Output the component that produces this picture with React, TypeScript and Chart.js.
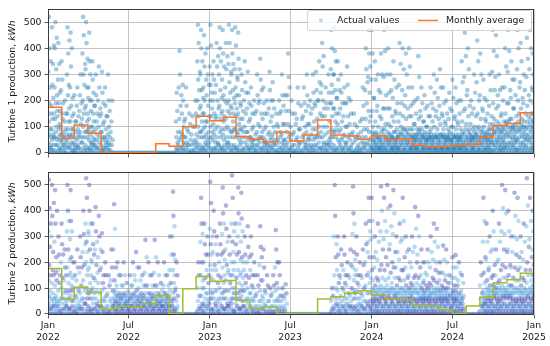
import React, { useEffect, useRef } from "react";
import { Chart, registerables } from "chart.js";

Chart.register(...registerables);

// ---------- axis / tick data ----------
const X_MAX = 1096; // days from 1 Jan 2022 to 1 Jan 2025
const xTickDays = [0, 181, 365, 546, 730, 912, 1096];
const xTickLabels = [
  ["Jan", "2022"], ["Jul", "2022"], ["Jan", "2023"], ["Jul", "2023"],
  ["Jan", "2024"], ["Jul", "2024"], ["Jan", "2025"],
];
const yTicks = [0, 100, 200, 300, 400, 500];

// ---------- monthly averages (Jan 2022 .. Dec 2024) ----------
const t1Monthly = [
  175, 55, 107, 75, 1, 1, 1, 1, 35, 25, 100, 140,
  123, 136, 62, 52, 42, 80, 46, 68, 126, 68, 65, 52,
  66, 50, 54, 28, 23, 25, 30, 33, 60, 105, 112, 154,
];
const t2Monthly = [
  176, 58, 104, 83, 19, 30, 28, 40, 71, 1, 98, 145,
  127, 130, 52, 21, 27, 1, 1, 1, 58, 67, 80, 90,
  73, 60, 55, 32, 30, 15, 2, 31, 65, 121, 133, 158,
];

// ---------- actual values, sampled week by week (kWh) ----------
const t1Weeks2022 = [
  [40,310,0,120,520,70,190,20,400,90,250,10,150,60,350,30],
  [20,180,0,90,480,50,260,130,10,340,70,210,30,150,410,60],
  [60,250,10,400,130,0,500,80,190,30,320,100,440,50,220,160],
  [30,140,0,280,60,420,10,190,90,340,20,110,230,50,160,70],
  [10,100,0,240,40,350,70,150,20,280,50,130,190,30,80,60],
  [0,60,10,120,30,200,0,90,20,150,40,70],
  [50,300,0,150,480,90,220,20,380,120,60,260,30,170,430,70],
  [20,250,0,120,460,60,330,40,180,90,10,400,140,70,210,30],
  [0,90,10,150,40,220,0,60,20,120,30,80],
  [10,120,0,180,50,250,20,90,30,140,60,70],
  [20,160,0,220,80,300,10,110,40,190,60,130],
  [40,380,0,200,520,100,300,20,450,150,60,260,10,170,80,340],
  [30,320,0,180,500,80,420,10,250,120,60,360,20,150,90,210],
  [0,250,50,130,460,20,350,70,200,10,300,100,40,160,80,30],
  [10,200,0,100,350,40,280,60,150,20,230,80,120,30,180,50],
  [0,180,30,90,300,10,220,50,120,20,150,70],
  [20,200,0,100,330,40,250,60,140,10,170,80],
  [0,150,30,80,310,10,230,50,110,20,190,60],
  [10,120,0,60,250,20,180,40,90,30,140,50],
  [0,140,20,70,300,10,200,40,100,30,160,60],
  [10,80,0,120,30,200,50,0],
  [0,0],[0,0],[0,0],[0,0],[0,0],[0,0],[0,0],[0,0],[0,0],[0,0],
  [0,0],[0,0],[0,0],[0,0],[0,0],[0,0],[0,0],[0,0],[0,0],[0,0],
  [0,120,20,60,230,10,160,40,80,30],
  [10,250,0,130,390,50,300,20,180,80,60,220],
  [0,150,20,70,260,10,200,40,100,30,120,60],
  [10,130,0,60,250,20,180,40,90,30],
  [0,80,10,30,150,0,110,50],
  [0,70,10,30,140,0,100,40],
  [10,100,0,50,200,20,150,30,70,0],
  [40,350,0,200,490,100,280,20,420,140,60,240,10,170,80,310],
  [30,300,0,180,470,80,400,10,240,120,60,350,20,150,90,210],
  [20,250,0,150,450,60,330,10,200,100,40,380,30,120,70,280],
  [10,220,0,120,400,50,300,30,180,80,20,260,60,140],
];
const t1Weeks2023 = [
  [40,330,0,200,490,100,260,20,410,140,60,230,10,170,80,300],
  [0,200,50,110,350,10,280,70,150,20,230,90,40,130],
  [20,260,0,140,420,60,330,10,200,100,40,370,30,170],
  [30,300,0,180,480,80,400,10,240,130,60,350,20,150,90,210],
  [20,280,0,160,470,70,380,10,220,120,50,330,30,140,90,200],
  [10,250,0,130,420,60,320,20,190,100,40,370,30,160],
  [40,340,0,200,490,90,270,20,420,150,60,230,10,180,80,310],
  [30,300,0,170,470,80,380,10,240,120,60,340,20,150,90,210],
  [30,320,0,190,480,90,250,20,410,140,60,220,10,170,80,290],
  [20,280,0,150,460,70,360,10,220,110,50,320,30,130,90,190],
  [0,180,40,90,300,10,240,60,130,20,160,80],
  [10,200,0,100,350,40,270,60,150,20,230,80],
  [0,170,30,80,310,10,230,50,120,20,190,60],
  [10,130,0,60,250,20,180,40,90,30,150,50],
  [0,100,20,50,200,10,150,30,70,0],
  [10,160,0,80,300,30,220,50,110,20,190,60],
  [0,200,40,100,360,10,280,60,150,20,240,80],
  [10,130,0,60,250,20,190,40,90,30,150,50],
  [0,100,10,40,200,20,150,30,70,0],
  [10,170,0,80,310,30,240,50,120,20,200,60],
  [0,140,20,70,270,10,200,40,100,30,170,50],
  [0,80,10,30,150,0,110,50],
  [10,100,0,40,200,20,150,60,80,0],
  [0,160,20,70,300,10,220,40,110,30,180,50],
  [10,110,0,50,220,20,160,30,80,0],
  [0,220,40,110,380,10,290,60,160,20,250,70],
  [10,100,0,50,200,20,150,30,70,0],
  [0,80,10,30,150,0,110,50],
  [10,130,0,60,250,20,190,40,90,30],
  [0,90,10,40,180,0,130,60],
  [10,140,0,70,250,20,190,40,100,30],
  [0,160,20,80,300,10,220,50,110,30,180,60],
  [10,110,0,50,200,20,150,30,70,0],
  [0,170,20,90,300,10,230,50,120,30,190,60],
  [10,180,0,90,310,30,240,60,130,20,200,70],
  [0,200,40,100,350,10,270,60,150,20,230,80],
  [20,260,0,140,420,60,330,10,200,100,40,370,30,170],
  [0,140,20,70,250,10,190,40,100,30],
  [10,170,0,80,300,30,230,50,120,20,190,60],
  [40,320,0,190,470,90,260,20,400,140,60,230,10,170,80,300],
  [30,300,0,170,480,80,390,10,240,120,60,350,20,150,90,210],
  [10,210,0,110,350,50,280,20,150,80,40,240],
  [0,170,30,90,300,10,230,50,120,20,190,60],
  [10,140,0,70,250,20,190,40,100,30],
  [0,190,40,100,330,10,260,60,140,20,210,70],
  [10,110,0,50,200,20,150,30,70,0],
  [0,80,10,40,150,0,110,60],
  [0,50,10,20,100,0,70,30],
  [0,60,10,20,120,0,80,40],
  [10,130,0,60,250,20,180,40,90,30],
  [20,240,0,130,400,60,320,10,190,90,40,270],
  [30,290,0,160,470,80,380,10,230,120,50,330,20,140],
];
const t1Weeks2024 = [
  [30,280,0,60,470,20,160,80,10,380,50,100,40,70,210,10],
  [20,210,0,50,350,30,120,70,10,280,40,80,60,20,160,0],
  [30,180,0,60,300,20,100,70,10,240,50,60,40,20,140,10],
  [20,230,0,50,380,30,130,80,10,300,40,90,60,20,170,0],
  [30,290,0,70,470,20,170,90,10,390,50,110,40,60,220,10],
  [20,300,0,60,480,30,170,80,10,400,50,110,40,70,230,0],
  [30,170,0,50,300,20,100,70,10,240,40,60,60,20,140,10],
  [20,210,0,60,350,30,120,80,10,280,50,80,40,20,160,0],
  [30,150,0,50,250,20,90,60,10,190,40,60,70,20,120,10],
  [20,260,0,60,420,30,150,80,10,340,50,100,40,70,190,0],
  [30,240,0,70,400,20,140,90,10,320,50,90,40,60,180,10],
  [20,220,0,60,380,30,130,80,10,300,50,90,40,70,170,0],
  [30,250,0,50,400,20,140,70,10,330,40,90,60,20,180,10],
  [20,140,0,60,250,30,90,70,10,190,50,60,40,20,110,0],
  [30,110,0,50,200,20,70,60,10,150,40,50,70,20,90,10],
  [20,210,0,60,370,30,130,80,10,290,50,90,40,70,160,0],
  [30,140,0,50,250,20,90,70,10,190,40,60,60,20,120,10],
  [20,120,0,60,220,30,80,70,10,170,50,50,40,20,100,0],
  [30,100,0,50,180,20,70,60,10,140,40,50,60,20,80,10],
  [20,140,0,60,250,30,90,70,10,190,50,60,40,20,120,0],
  [30,170,0,50,300,20,100,70,10,230,40,60,60,20,140,10],
  [20,160,0,60,280,30,90,70,10,210,50,60,40,20,130,0],
  [30,180,0,50,320,20,110,70,10,250,40,70,60,20,150,10],
  [20,140,0,60,250,30,90,70,10,190,50,60,40,20,120,0],
  [30,110,0,50,200,20,70,60,10,150,40,50,60,20,90,10],
  [20,130,0,60,230,30,80,70,10,170,50,50,40,20,100,0],
  [30,160,0,50,280,20,100,70,10,210,40,60,60,20,130,10],
  [20,140,0,60,250,30,90,70,10,190,50,60,40,20,120,0],
  [30,110,0,50,200,20,70,60,10,150,40,50,60,20,90,10],
  [20,200,0,60,350,30,120,70,10,270,50,80,40,20,160,0],
  [30,290,0,70,460,20,170,90,10,370,50,110,40,60,220,10],
  [20,240,0,60,400,30,140,80,10,320,50,90,40,70,180,0],
  [30,110,0,50,200,20,70,60,10,150,40,50,60,20,90,10],
  [20,170,0,60,300,30,100,80,10,230,50,60,40,70,140,0],
  [30,270,0,70,430,20,150,90,10,350,50,100,40,60,200,10],
  [20,220,0,60,380,30,130,80,10,300,50,90,40,70,170,0],
  [30,160,0,60,280,20,100,80,10,210,50,60,40,70,130,10],
  [20,120,0,60,200,30,80,70,10,150,50,50,40,20,90,0],
  [30,180,0,70,300,20,110,90,10,240,50,70,40,60,140,10],
  [40,310,0,90,470,30,190,110,10,390,70,130,50,80,240,20],
  [30,290,0,80,450,40,170,100,10,370,60,120,50,90,220,20],
  [40,180,0,70,300,30,110,90,10,240,60,80,50,20,140,10],
  [30,150,0,80,250,40,100,90,10,200,60,70,50,20,120,20],
  [40,250,0,90,400,30,150,110,10,330,70,120,60,80,190,20],
  [30,310,0,100,470,40,190,120,10,390,70,130,60,90,240,20],
  [40,210,0,80,350,30,130,100,10,280,60,100,50,90,170,20],
  [30,170,0,70,280,40,110,90,10,220,60,80,50,20,140,10],
  [40,320,0,100,470,50,200,120,10,400,80,150,60,90,250,20],
  [30,270,0,90,420,40,170,110,10,350,70,130,60,100,210,20],
  [40,190,0,80,300,30,120,100,10,240,60,90,50,70,150,20],
  [30,290,0,100,440,50,180,120,10,360,70,140,60,90,220,20],
  [40,320,0,110,470,50,200,130,10,400,80,150,60,100,250,20],
  [30,240,0,90,380,40,150,120,10,300,70,120,60,100,190,20],
];

const t2Weeks2022 = [
  [40,320,0,130,520,70,190,20,410,90,260,10,150,60,350,30],
  [20,300,0,120,500,50,380,30,170,80,240,10,150,60,430,40],
  [30,280,0,110,480,60,350,20,160,70,220,10,130,50,400,40],
  [0,170,30,90,300,10,230,50,120,20,150,60],
  [10,200,0,100,350,40,270,60,140,20,230,80],
  [0,130,20,60,250,10,180,40,90,30,150,50],
  [30,320,0,180,500,80,400,10,250,120,60,360,20,150,90,210],
  [20,290,0,160,480,70,360,10,220,110,50,320,30,140,90,200],
  [0,100,10,50,200,20,150,30,70,0],
  [10,130,0,60,250,20,180,40,90,30],
  [0,160,20,80,300,10,220,50,110,30,180,60],
  [20,240,0,130,400,60,310,10,190,90,40,270],
  [40,350,0,200,526,100,280,20,450,150,60,240,10,170,80,320],
  [30,310,0,180,500,80,400,10,250,120,60,350,20,150,90,210],
  [10,200,0,100,350,40,270,60,140,20,230,80],
  [20,250,0,130,414,60,320,10,190,90,40,280,30,160],
  [10,220,0,120,380,50,300,20,170,80,30,250],
  [0,180,30,90,313,10,240,50,120,20,150,60],
  [10,100,0,50,200,20,150,30,70,0],
  [0,80,10,30,150,0,110,50],
  [10,130,0,60,250,20,180,40,90,30],
  [30,250,0,60,425,20,130,80,10,330,50,90,40,70,180,10],
  [20,110,0,50,200,30,70,60,10,150,40,80],
  [30,80,0,50,150,20,60,40,10,110,70,30],
  [20,110,0,60,200,30,80,50,10,150,40,70],
  [30,70,0,40,120,20,50,60,10,90,30,10],
  [20,80,0,50,150,30,60,40,10,110,70,30],
  [30,110,0,60,200,20,80,50,10,150,40,70],
  [20,130,0,70,240,30,90,60,10,180,50,40],
  [30,100,0,60,180,20,70,50,10,130,40,80],
  [20,80,0,50,150,30,60,40,10,110,70,30],
  [30,160,0,80,287,20,110,60,10,220,50,40],
  [20,110,0,60,200,30,80,50,10,150,40,70],
  [30,80,0,50,150,20,60,40,10,110,70,30],
  [20,160,0,80,287,30,110,60,10,220,50,40],
  [30,110,0,60,200,20,80,50,10,150,40,70],
  [20,70,0,40,120,30,50,60,10,90,30,10],
  [30,110,0,60,200,20,80,50,10,150,40,70],
  [20,80,0,50,150,30,60,40,10,110,70,30],
  [30,170,0,90,300,20,120,60,10,230,50,40],
  [30,300,0,170,474,80,380,10,230,120,60,340,20,150,90,210],
  [10,100,0,50,200,20,150,30,70,0],
  [0,0],[0,0],[0,0],[0,0],[0,0],[0,0],
  [10,100,0,50,200,20,150,30,70,0],
  [20,280,0,150,450,70,350,10,200,100,40,310,30,130],
  [10,200,0,100,350,40,270,60,140,20,230,80],
  [0,170,30,80,300,10,230,50,120,20,150,60],
];
const t2Weeks2023 = [
  [40,330,0,190,512,90,270,20,430,140,60,230,10,170,80,300],
  [20,240,0,130,400,60,320,10,190,90,40,270],
  [0,170,30,90,300,10,230,50,120,20,150,60],
  [10,200,0,100,350,40,270,60,140,20,230,80],
  [30,310,0,180,490,80,390,10,240,120,60,350,20,150,90,210],
  [20,250,0,130,420,60,330,10,190,90,40,280,30,160],
  [0,170,30,90,300,10,230,50,120,20,150,60],
  [40,350,0,200,537,100,280,20,450,150,60,240,10,170,80,320],
  [10,200,0,100,350,40,270,60,140,20,230,80],
  [30,300,0,170,490,80,390,10,240,120,60,350,20,150,90,210],
  [20,280,0,160,470,70,370,10,220,110,50,320,30,140,90,200],
  [0,170,30,90,300,10,230,50,120,20,150,60],
  [10,200,0,100,340,40,260,60,140,20,220,80],
  [0,170,30,80,300,10,230,50,110,20,150,60],
  [10,100,0,50,200,20,150,30,70,0],
  [0,80,10,30,150,0,110,50],
  [10,190,0,90,340,30,260,50,130,20,220,70],
  [0,130,20,60,250,10,180,40,90,30],
  [0,80,10,30,150,0,110,50],
  [0,50,10,20,100,0,70,30],
  [0,80,10,30,150,0,110,50],
  [10,180,0,90,325,30,250,50,120,20,200,60],
  [0,100,10,50,200,20,150,30,70,0],
  [0,50,10,20,100,0,70,30],
  [0,60,10,20,115,0,80,40],
  [0,0],[0,0],[0,0],[0,0],[0,0],[0,0],[0,0],[0,0],[0,0],[0,0],[0,0],[0,0],[0,0],[0,0],
  [0,50,10,20,100,0,70,30],
  [20,300,0,150,500,60,380,10,220,100,40,270],
  [0,170,30,90,300,10,230,60,120,20,150,40],
  [10,140,0,70,250,30,190,50,100,20],
  [0,170,30,90,300,10,230,60,120,20,150,40],
  [10,110,0,60,200,30,150,40,80,20],
  [0,140,30,70,250,10,190,50,100,20],
  [30,310,0,180,494,90,390,10,240,130,60,350,20,150,80,210],
  [0,170,30,90,300,10,230,60,120,20,150,40],
  [10,110,0,60,200,30,150,40,80,20],
  [0,140,30,70,250,10,190,50,100,20],
  [20,200,0,110,350,50,270,10,150,80,40,240],
  [30,280,0,160,450,80,360,10,220,120,50,320,20,140],
];
const t2Weeks2024 = [
  [30,290,0,80,450,40,170,100,10,360,60,130,50,90,220,20],
  [40,180,0,70,300,30,110,90,10,240,60,80,50,20,140,10],
  [30,210,0,80,350,40,130,100,10,280,60,90,50,70,170,20],
  [40,320,0,110,494,30,190,90,10,400,70,140,60,80,250,20],
  [30,290,0,100,450,40,170,80,10,360,60,130,50,90,220,20],
  [40,320,0,110,500,30,190,90,10,410,70,140,60,80,250,20],
  [30,270,0,90,420,40,160,100,10,340,60,120,50,80,200,20],
  [40,310,0,100,480,30,180,90,10,390,70,140,60,80,240,20],
  [30,180,0,70,300,40,110,90,10,240,60,80,50,20,140,10],
  [40,210,0,80,350,30,130,100,10,280,60,90,50,70,170,20],
  [30,290,0,100,450,40,170,80,10,360,60,130,50,90,220,20],
  [40,180,0,70,300,30,110,90,10,240,60,80,50,20,140,10],
  [30,150,0,60,250,40,100,90,10,200,60,70,50,80,120,20],
  [40,180,0,70,300,30,110,90,10,240,60,80,50,20,140,10],
  [30,260,0,90,414,40,150,100,10,330,60,120,50,80,200,20],
  [40,230,0,80,380,30,140,90,10,300,60,110,50,70,180,20],
  [30,150,0,60,250,40,100,90,10,200,60,70,50,80,120,20],
  [40,130,0,60,200,30,90,80,10,160,60,70,50,20,110,10],
  [30,150,0,60,250,40,100,90,10,200,60,70,50,80,120,20],
  [40,180,0,70,300,30,110,90,10,240,60,80,50,20,140,10],
  [30,210,0,80,350,40,130,100,10,280,60,90,50,70,170,20],
  [40,200,0,80,330,30,120,90,10,260,60,100,50,70,160,20],
  [30,130,0,60,200,40,90,80,10,160,60,70,50,20,110,10],
  [40,160,0,60,265,30,100,90,10,210,60,80,50,70,130,20],
  [30,150,0,60,250,40,100,90,10,200,60,70,50,80,120,20],
  [40,100,0,50,150,30,70,60,10,120,20,80],
  [30,140,0,60,220,40,90,80,10,180,60,70,50,20,110,10],
  [40,140,0,60,228,30,90,80,10,180,60,70,50,20,110,10],
  [30,130,0,50,200,40,80,60,10,160,20,70],
  [40,90,0,50,150,30,60,40,10,120,20,70],
  [0,0],[0,0],[0,0],[0,0],[0,0],
  [10,110,0,60,200,30,150,40,80,20],
  [30,280,0,90,450,50,160,70,10,360,40,120,60,20,220,10],
  [40,210,0,80,350,30,130,100,10,280,60,90,50,70,170,20],
  [30,180,0,70,300,40,110,90,10,240,60,80,50,20,140,10],
  [40,250,0,90,400,30,150,110,10,320,70,110,60,80,190,20],
  [30,150,0,80,250,40,100,90,10,200,60,70,50,20,120,20],
  [40,210,0,80,350,30,130,100,10,280,60,90,50,70,170,20],
  [30,320,0,110,500,40,190,90,10,410,70,140,60,80,250,20],
  [40,310,0,100,480,30,180,90,10,390,70,140,60,80,240,20],
  [30,250,0,90,400,40,150,110,10,320,70,110,60,80,190,20],
  [40,180,0,70,300,30,110,90,10,240,60,80,50,20,140,10],
  [30,300,0,100,470,40,180,80,10,380,60,130,50,90,230,20],
  [40,290,0,100,450,30,170,80,10,360,60,130,50,90,220,20],
  [30,180,0,70,300,40,110,90,10,240,60,80,50,20,140,10],
  [40,210,0,80,350,30,130,100,10,280,60,90,50,70,170,20],
  [30,340,0,120,526,40,200,90,10,420,70,150,60,80,260,20],
  [40,290,0,100,450,30,170,80,10,360,60,130,50,90,220,20],
  [30,250,0,90,400,40,150,110,10,320,70,110,60,80,190,20],
];

// ---------- helpers ----------
const FONT_FAMILY = '"DejaVu Sans", sans-serif';
const FONT_SIZE = 9.3;
const TEXT_COLOR = "#1a1a1a";
const T1_LINE = "#fb7423";
const T2_LINE = "#a2bd2c";
const T1_POINT = "rgba(31,119,180,0.4)";
const T2_POINT_A = "rgba(64,72,172,0.42)";
const T2_POINT_B = "rgba(58,150,218,0.36)";

function weeksToPoints(weeks: number[][], firstWeek: number) {
  const pts: { x: number; y: number }[] = [];
  weeks.forEach((vals, i) => {
    const d0 = 7 * (firstWeek + i);
    const span = Math.min(7, X_MAX - d0);
    vals.forEach((v, j) => pts.push({ x: d0 + ((j + 0.5) * span) / vals.length, y: v }));
  });
  return pts;
}

function monthStartDay(i: number) {
  return (Date.UTC(2022, i, 1) - Date.UTC(2022, 0, 1)) / 86400000;
}

function monthlyToSteps(values: number[]) {
  const pts = values.map((v, i) => ({ x: monthStartDay(i), y: v }));
  pts.push({ x: monthStartDay(values.length), y: values[values.length - 1] });
  return pts;
}

const decorPlugin = {
  id: "decor",
  afterDraw(chart: any, _args: any, opts: any) {
    const { ctx, chartArea: a } = chart;
    ctx.save();
    ctx.strokeStyle = "#3a3a3a";
    ctx.lineWidth = 1;
    ctx.strokeRect(Math.round(a.left) + 0.5, Math.round(a.top) + 0.5, Math.round(a.right - a.left) - 1, Math.round(a.bottom - a.top) - 1);

    const normal = `${FONT_SIZE}px ${FONT_FAMILY}`;
    const italic = `italic ${FONT_SIZE}px ${FONT_FAMILY}`;
    ctx.fillStyle = TEXT_COLOR;
    ctx.textBaseline = "middle";
    ctx.textAlign = "left";
    ctx.font = normal;
    const w1 = ctx.measureText(opts.title[0]).width;
    ctx.font = italic;
    const w2 = ctx.measureText(opts.title[1]).width;
    ctx.translate(opts.titleX, (a.top + a.bottom) / 2);
    ctx.rotate(-Math.PI / 2);
    const start = -(w1 + w2) / 2;
    ctx.font = normal;
    ctx.fillText(opts.title[0], start, 0);
    ctx.font = italic;
    ctx.fillText(opts.title[1], start + w1, 0);
    ctx.restore();

    if (opts.legend) {
      ctx.save();
      const bx = 307, by = 10, bw = 224, bh = 20;
      ctx.fillStyle = "rgba(255,255,255,0.8)";
      ctx.strokeStyle = "#d4d4d4";
      ctx.lineWidth = 1;
      ctx.beginPath();
      (ctx as any).roundRect(bx + 0.5, by + 0.5, bw, bh, 2.5);
      ctx.fill();
      ctx.stroke();
      const cy = by + bh / 2 + 0.5;
      ctx.fillStyle = "rgba(31,119,180,0.3)";
      ctx.beginPath();
      ctx.arc(321, cy, 2, 0, Math.PI * 2);
      ctx.fill();
      ctx.font = `${FONT_SIZE}px ${FONT_FAMILY}`;
      ctx.fillStyle = TEXT_COLOR;
      ctx.textBaseline = "middle";
      ctx.textAlign = "left";
      ctx.fillText("Actual values", 337, cy);
      ctx.strokeStyle = T1_LINE;
      ctx.lineWidth = 1.5;
      ctx.beginPath();
      ctx.moveTo(418, cy);
      ctx.lineTo(438, cy);
      ctx.stroke();
      ctx.fillText("Monthly average", 446, cy);
      ctx.restore();
    }
  },
};

function buildConfig(p: {
  points: { x: number; y: number }[];
  steps: { x: number; y: number }[];
  pointColor: any;
  lineColor: string;
  title: [string, string];
  showXLabels: boolean;
  legend: boolean;
  padTop: number;
  xAxisH: number;
}): any {
  const font = { family: FONT_FAMILY, size: FONT_SIZE, lineHeight: 1.3 };
  return {
    type: "scatter",
    data: {
      datasets: [
        {
          type: "line",
          label: "Monthly average",
          data: p.steps,
          stepped: "before",
          borderColor: p.lineColor,
          borderWidth: 1.5,
          pointRadius: 0,
          fill: false,
          order: 0,
        },
        {
          type: "scatter",
          label: "Actual values",
          data: p.points,
          pointRadius: 2.3,
          pointBorderWidth: 0,
          borderWidth: 0,
          backgroundColor: p.pointColor,
          order: 1,
        },
      ],
    },
    options: {
      animation: false,
      responsive: false,
      devicePixelRatio: 1,
      events: [],
      layout: { padding: { left: 0, right: 16, top: p.padTop, bottom: 0 } },
      plugins: {
        legend: { display: false },
        tooltip: { enabled: false },
        decor: { title: p.title, titleX: 13, legend: p.legend },
      },
      scales: {
        x: {
          type: "linear",
          min: 0,
          max: X_MAX,
          afterBuildTicks: (s: any) => {
            s.ticks = xTickDays.map((v) => ({ value: v }));
          },
          afterFit: (s: any) => {
            s.height = p.xAxisH;
          },
          border: { display: false },
          grid: { color: "#b4b4b4", lineWidth: 0.8, tickLength: 3.5, tickColor: "#333", drawTicks: true },
          ticks: {
            display: p.showXLabels,
            autoSkip: false,
            maxRotation: 0,
            padding: 1,
            color: TEXT_COLOR,
            font,
            callback: (v: number) => xTickLabels[xTickDays.indexOf(v)] || "",
          },
        },
        y: {
          type: "linear",
          min: -4,
          max: 550,
          afterBuildTicks: (s: any) => {
            s.ticks = yTicks.map((v) => ({ value: v }));
          },
          afterFit: (s: any) => {
            s.width = 48;
          },
          border: { display: false },
          grid: { color: "#b4b4b4", lineWidth: 0.8, tickLength: 3.5, tickColor: "#333", drawTicks: true },
          ticks: { padding: 3, color: TEXT_COLOR, font, callback: (v: number) => String(v) },
        },
      },
    },
    plugins: [decorPlugin],
  };
}

export default function App() {
  const topRef = useRef<HTMLCanvasElement>(null);
  const botRef = useRef<HTMLCanvasElement>(null);

  useEffect(() => {
    const t1Points = [
      ...weeksToPoints(t1Weeks2022, 0),
      ...weeksToPoints(t1Weeks2023, 52),
      ...weeksToPoints(t1Weeks2024, 104),
    ];
    const t2Points = [
      ...weeksToPoints(t2Weeks2022, 0),
      ...weeksToPoints(t2Weeks2023, 52),
      ...weeksToPoints(t2Weeks2024, 104),
    ];
    const c1 = new Chart(
      topRef.current as HTMLCanvasElement,
      buildConfig({
        points: t1Points,
        steps: monthlyToSteps(t1Monthly),
        pointColor: T1_POINT,
        lineColor: T1_LINE,
        title: ["Turbine 1 production, ", "kWh"],
        showXLabels: false,
        legend: true,
        padTop: 7,
        xAxisH: 7,
      })
    );
    const c2 = new Chart(
      botRef.current as HTMLCanvasElement,
      buildConfig({
        points: t2Points,
        steps: monthlyToSteps(t2Monthly),
        pointColor: (ctx: any) => (ctx.dataIndex % 2 ? T2_POINT_B : T2_POINT_A),
        lineColor: T2_LINE,
        title: ["Turbine 2 production, ", "kWh"],
        showXLabels: true,
        legend: false,
        padTop: 4,
        xAxisH: 31,
      })
    );
    return () => {
      c1.destroy();
      c2.destroy();
    };
  }, []);

  return (
    <div style={{ position: "fixed", left: 0, top: 0, width: 550, height: 346, background: "#fff" }}>
      <canvas ref={topRef} width={550} height={163} style={{ display: "block" }} />
      <canvas ref={botRef} width={550} height={183} style={{ display: "block" }} />
    </div>
  );
}
